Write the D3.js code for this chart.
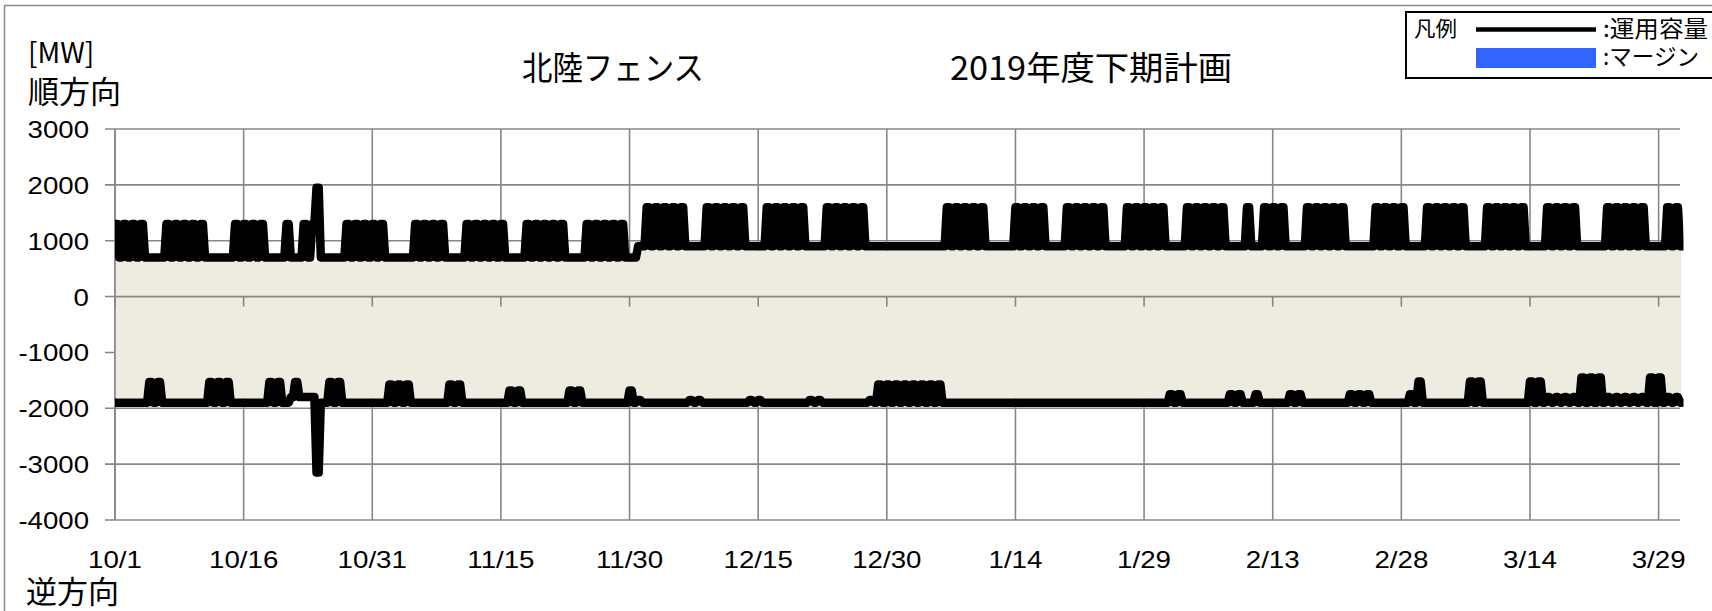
<!DOCTYPE html>
<html><head><meta charset="utf-8">
<script src="https://cdn.jsdelivr.net/npm/d3@7"></script>
<style>html,body{margin:0;padding:0;background:#fff;} svg{display:block;}</style>
</head><body><svg id="c" width="1712" height="611"></svg>
<script>
// ---------------- data ----------------
const startDate = "2019-10-01";
const dayCount = 183;            // 2019-10-01 .. 2020-03-31
const slotNames = ["D1", "D2", "N1", "N2"];   // 昼間 2 points, 夜間 2 points per day

// 順方向 運用容量 [MW] : daytime value per date
const upDay = [
  1300,1300,1300,1300,                    // 10/1-10/4
  700,700,1300,1300,1300,1300,1300,       // 10/5-11
  700,700,700,1300,1300,1300,1300,        // 10/12-18
  700,700,1300,700,1300,1300,700,         // 10/19-25
  700,700,1300,1300,1300,1300,1300,       // 10/26-11/1
  700,700,700,1300,1300,1300,1300,        // 11/2-8
  700,700,1300,1300,1300,1300,1300,       // 11/9-15
  700,700,1300,1300,1300,1300,1300,       // 11/16-22
  700,700,1300,1300,1300,1300,1300,       // 11/23-29
  700,900,1600,1600,1600,1600,1600,       // 11/30-12/6
  900,900,1600,1600,1600,1600,1600,       // 12/7-13
  900,900,1600,1600,1600,1600,1600,       // 12/14-20
  900,900,1600,1600,1600,1600,1600,       // 12/21-27
  900,900,900,900,900,900,900,            // 12/28-1/3
  900,900,1600,1600,1600,1600,1600,       // 1/4-10
  900,900,900,1600,1600,1600,1600,        // 1/11-17
  900,900,1600,1600,1600,1600,1600,       // 1/18-24
  900,900,1600,1600,1600,1600,1600,       // 1/25-31
  900,900,1600,1600,1600,1600,1600,       // 2/1-7
  900,900,1600,900,1600,1600,1600,        // 2/8-14
  900,900,1600,1600,1600,1600,1600,       // 2/15-21
  900,900,900,1600,1600,1600,1600,        // 2/22-28
  900,900,1600,1600,1600,1600,1600,       // 2/29-3/6
  900,900,1600,1600,1600,1600,1600,       // 3/7-13
  900,900,1600,1600,1600,1600,900,        // 3/14-20
  900,900,1600,1600,1600,1600,1600,       // 3/21-27
  900,900,1600,1600                       // 3/28-31
];
// 順方向 運用容量 [MW] : night value per date
const upNight = [
  700,700,700,700,
  700,700,700,700,700,700,700,
  700,700,700,700,700,700,700,
  700,700,700,700,700,1950,700,
  700,700,700,700,700,700,700,
  700,700,700,700,700,700,700,
  700,700,700,700,700,700,700,
  700,700,700,700,700,700,700,
  700,700,700,700,700,700,700,
  700,900,900,900,900,900,900,
  900,900,900,900,900,900,900,
  900,900,900,900,900,900,900,
  900,900,900,900,900,900,900,
  900,900,900,900,900,900,900,
  900,900,900,900,900,900,900,
  900,900,900,900,900,900,900,
  900,900,900,900,900,900,900,
  900,900,900,900,900,900,900,
  900,900,900,900,900,900,900,
  900,900,900,900,900,900,900,
  900,900,900,900,900,900,900,
  900,900,900,900,900,900,900,
  900,900,900,900,900,900,900,
  900,900,900,900,900,900,900,
  900,900,900,900,900,900,900,
  900,900,900,900,900,900,900,
  900,900,900,900
];
// 逆方向 運用容量 [MW] : daytime value per date
const loDay = [
  -1900,-1900,-1900,-1900,
  -1530,-1530,-1900,-1900,-1900,-1900,-1900,
  -1530,-1530,-1530,-1900,-1900,-1900,-1900,
  -1530,-1530,-1900,-1530,-1800,-1800,-1900,
  -1530,-1530,-1900,-1900,-1900,-1900,-1900,
  -1575,-1575,-1575,-1900,-1900,-1900,-1900,
  -1575,-1575,-1900,-1900,-1900,-1900,-1900,
  -1680,-1680,-1900,-1900,-1900,-1900,-1900,
  -1680,-1680,-1900,-1900,-1900,-1900,-1900,
  -1680,-1850,-1900,-1900,-1900,-1900,-1900,
  -1850,-1850,-1900,-1900,-1900,-1900,-1900,
  -1850,-1850,-1900,-1900,-1900,-1900,-1900,
  -1850,-1850,-1900,-1900,-1900,-1900,-1900,
  -1850,-1575,-1575,-1575,-1575,-1575,-1575,
  -1575,-1575,-1900,-1900,-1900,-1900,-1900,
  -1900,-1900,-1900,-1900,-1900,-1900,-1900,
  -1900,-1900,-1900,-1900,-1900,-1900,-1900,
  -1900,-1900,-1900,-1900,-1900,-1900,-1900,
  -1750,-1750,-1900,-1900,-1900,-1900,-1900,
  -1750,-1750,-1900,-1750,-1900,-1900,-1900,
  -1750,-1750,-1900,-1900,-1900,-1900,-1900,
  -1750,-1750,-1750,-1900,-1900,-1900,-1900,
  -1750,-1520,-1900,-1900,-1900,-1900,-1900,
  -1520,-1520,-1900,-1900,-1900,-1900,-1900,
  -1520,-1520,-1800,-1800,-1800,-1800,-1450,
  -1450,-1450,-1800,-1800,-1800,-1800,-1800,
  -1450,-1450,-1800,-1800
];
// 逆方向 運用容量 [MW] : night value per date
const loNight = [
  -1900,-1900,-1900,-1900,
  -1900,-1900,-1900,-1900,-1900,-1900,-1900,
  -1900,-1900,-1900,-1900,-1900,-1900,-1900,
  -1900,-1900,-1800,-1800,-1800,-3150,-1900,
  -1900,-1900,-1900,-1900,-1900,-1900,-1900,
  -1900,-1900,-1900,-1900,-1900,-1900,-1900,
  -1900,-1900,-1900,-1900,-1900,-1900,-1900,
  -1900,-1900,-1900,-1900,-1900,-1900,-1900,
  -1900,-1900,-1900,-1900,-1900,-1900,-1900,
  -1900,-1900,-1900,-1900,-1900,-1900,-1900,
  -1900,-1900,-1900,-1900,-1900,-1900,-1900,
  -1900,-1900,-1900,-1900,-1900,-1900,-1900,
  -1900,-1900,-1900,-1900,-1900,-1900,-1900,
  -1900,-1900,-1900,-1900,-1900,-1900,-1900,
  -1900,-1900,-1900,-1900,-1900,-1900,-1900,
  -1900,-1900,-1900,-1900,-1900,-1900,-1900,
  -1900,-1900,-1900,-1900,-1900,-1900,-1900,
  -1900,-1900,-1900,-1900,-1900,-1900,-1900,
  -1900,-1900,-1900,-1900,-1900,-1900,-1900,
  -1900,-1900,-1900,-1900,-1900,-1900,-1900,
  -1900,-1900,-1900,-1900,-1900,-1900,-1900,
  -1900,-1900,-1900,-1900,-1900,-1900,-1900,
  -1900,-1900,-1900,-1900,-1900,-1900,-1900,
  -1900,-1900,-1900,-1900,-1900,-1900,-1900,
  -1900,-1900,-1900,-1900,-1900,-1900,-1900,
  -1900,-1900,-1900,-1900,-1900,-1900,-1900,
  -1900,-1900,-1900,-1900
];
// shaded band (capacity less margin), step values by start date
const bandTopSteps = [["2019-10-01", 625], ["2019-12-01", 825]];
const bandBottomSteps = [["2019-10-01", -1825]];

const yTicks = [3000, 2000, 1000, 0, -1000, -2000, -3000, -4000];
const xTickLabels = ["10/1","10/16","10/31","11/15","11/30","12/15","12/30","1/14","1/29","2/13","2/28","3/14","3/29"];
const titleLeft = "北陸フェンス";
const titleRight = "2019年度下期計画";
const legendTitle = "凡例";
const legendItems = [":運用容量", ":マージン"];

// ---------------- chart ----------------
const svg = d3.select("#c");
const parse = d3.timeParse("%Y-%m-%d");
const fmt = d3.timeFormat("%-m/%-d");
const start = parse(startDate);
const dates = d3.range(dayCount).map(i => d3.timeDay.offset(start, i));
const slots = [];
dates.forEach((d, i) => slotNames.forEach(s => slots.push(i + s)));

const X0 = 115, X1 = 1682.2;
const x = d3.scalePoint().domain(slots).range([X0, X1]);
const y = d3.scaleLinear().domain([-4000, 3000]).range([520, 129]);

const GRID = "#878787";
const JP = "'Noto Sans CJK JP', sans-serif";
const NUM = "'Liberation Sans', Arial, sans-serif";

function stext(g, px, py, str, o) {
  const t = g.append("text")
    .attr("x", px).attr("y", py)
    .attr("text-anchor", o.anchor || "start")
    .attr("font-family", o.family)
    .attr("font-size", o.size)
    .attr("fill", "#000")
    .text(str);
  if (o.width) {
    t.attr("textLength", o.width).attr("lengthAdjust", "spacingAndGlyphs");
  } else if (o.sx && o.sx !== 1) {
    const w = t.node().getComputedTextLength();
    t.attr("textLength", (w * o.sx).toFixed(1)).attr("lengthAdjust", "spacingAndGlyphs");
  }
  return t;
}

// outer frame
svg.append("rect").attr("x", 4.5).attr("y", 5.5).attr("width", 1720).attr("height", 620)
  .attr("fill", "none").attr("stroke", "#8a8a8a").attr("stroke-width", 1.5);

const tickIdx = xTickLabels.map(l => dates.findIndex(d => fmt(d) === l));
const tx = i => x(i + slotNames[0]);

// gridlines
const grid = svg.append("g");
grid.selectAll("line.h").data(yTicks).join("line")
  .attr("x1", X0 - 10).attr("x2", 1680).attr("y1", d => y(d)).attr("y2", d => y(d))
  .attr("stroke", GRID).attr("stroke-width", 1.6);
grid.selectAll("line.v").data(tickIdx).join("line")
  .attr("x1", tx).attr("x2", tx)
  .attr("y1", y(3000)).attr("y2", y(-4000))
  .attr("stroke", GRID).attr("stroke-width", 1.6);

// shaded band
function stepVal(steps, date) {
  let v = steps[0][1];
  steps.forEach(s => { if (parse(s[0]) <= date) v = s[1]; });
  return v;
}
const bandPts = [];
dates.forEach((d, i) => slotNames.forEach(s =>
  bandPts.push({ key: i + s, hi: stepVal(bandTopSteps, d), lo: stepVal(bandBottomSteps, d) })));
svg.append("path").datum(bandPts)
  .attr("d", d3.area().x(d => Math.min(x(d.key), 1681)).y0(d => y(d.lo)).y1(d => y(d.hi)))
  .attr("fill", "#EEECE1");

// y axis line and zero axis with ticks
svg.append("line").attr("x1", X0).attr("x2", X0).attr("y1", y(3000)).attr("y2", y(-4000))
  .attr("stroke", GRID).attr("stroke-width", 1.6);
svg.append("line").attr("x1", X0).attr("x2", 1680).attr("y1", y(0)).attr("y2", y(0))
  .attr("stroke", GRID).attr("stroke-width", 1.8);
svg.selectAll("line.zt").data(tickIdx).join("line")
  .attr("x1", tx).attr("x2", tx)
  .attr("y1", y(0)).attr("y2", y(0) + 10)
  .attr("stroke", GRID).attr("stroke-width", 1.6);

// series
const clip = svg.append("clipPath").attr("id", "pc");
clip.append("rect").attr("x", X0).attr("y", 0).attr("width", 1683.5 - X0).attr("height", 611);
function series(dayArr, nightArr) {
  const pts = [];
  dayArr.forEach((v, i) => slotNames.forEach(s =>
    pts.push({ key: i + s, v: s[0] === "D" ? v : nightArr[i] })));
  return pts;
}
const line = d3.line().x(d => x(d.key)).y(d => y(d.v));
[[upDay, upNight], [loDay, loNight]].forEach(([a, b]) => {
  svg.append("path").datum(series(a, b)).attr("d", line)
    .attr("clip-path", "url(#pc)")
    .attr("fill", "none").attr("stroke", "#000").attr("stroke-width", 8.5)
    .attr("stroke-linejoin", "round").attr("stroke-linecap", "round");
});

// tick labels
const labels = svg.append("g");
yTicks.forEach(v => stext(labels, 89, y(v) + 9, String(v), { size: 24, family: NUM, anchor: "end", sx: 1.15 }));
xTickLabels.forEach((l, k) => stext(labels, tx(tickIdx[k]), 568, l, { size: 24.5, family: NUM, anchor: "middle", sx: 1.13 }));

// axis captions
stext(labels, 28, 63, "[MW]", { size: 28, family: JP });
stext(labels, 28, 103, "順方向", { size: 31, family: JP });
stext(labels, 26, 603, "逆方向", { size: 31, family: JP });

// title
stext(svg, 522, 80, titleLeft, { size: 33, family: JP, width: 182 });
stext(svg, 950, 80, titleRight, { size: 33, family: JP, width: 282 });

// legend
const lg = svg.append("g");
lg.append("rect").attr("x", 1406).attr("y", 12).attr("width", 320).attr("height", 66)
  .attr("fill", "#fff").attr("stroke", "#000").attr("stroke-width", 2);
stext(lg, 1414, 36, legendTitle, { size: 21, family: JP, width: 43 });
lg.append("line").attr("x1", 1476).attr("x2", 1596).attr("y1", 29.5).attr("y2", 29.5)
  .attr("stroke", "#000").attr("stroke-width", 4.5);
lg.append("rect").attr("x", 1476).attr("y", 48).attr("width", 120).attr("height", 20).attr("fill", "#3366FF");
stext(lg, 1603, 37, legendItems[0], { size: 23, family: JP, width: 105 });
stext(lg, 1603, 65, legendItems[1], { size: 23, family: JP, width: 96 });
</script>
</body></html>
